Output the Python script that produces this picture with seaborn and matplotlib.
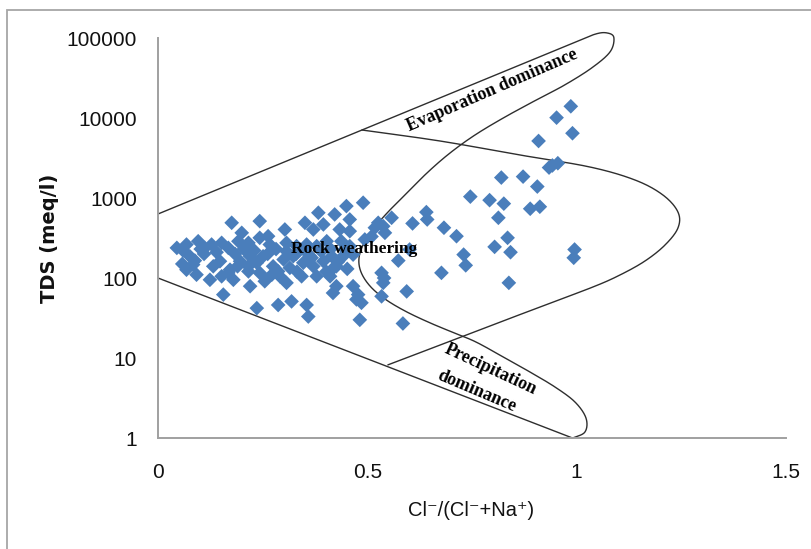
import numpy as np
import pandas as pd
import matplotlib
matplotlib.use("Agg")
import matplotlib.pyplot as plt
from matplotlib.patches import Rectangle
import seaborn as sns

# Sample values: Cl-/(Cl- + Na+) ratio and total dissolved solids
cl_ratio = [
    0.176, 0.243, 0.351, 0.383, 0.422, 0.450, 0.490, 0.458, 0.395, 0.371,
    0.200, 0.303, 0.263, 0.434, 0.458, 0.045, 0.068, 0.096, 0.128, 0.152,
    0.168, 0.192, 0.216, 0.243, 0.267, 0.307, 0.331, 0.355, 0.379, 0.403,
    0.438, 0.458, 0.076, 0.084, 0.068, 0.092, 0.132, 0.148, 0.172, 0.124,
    0.152, 0.180, 0.196, 0.220, 0.236, 0.251, 0.216, 0.243, 0.220, 0.255,
    0.275, 0.291, 0.315, 0.323, 0.347, 0.371, 0.379, 0.343, 0.307, 0.395,
    0.426, 0.411, 0.442, 0.466, 0.426, 0.418, 0.466, 0.478, 0.486, 0.482,
    0.156, 0.236, 0.287, 0.319, 0.355, 0.359, 0.558, 0.526, 0.538, 0.518,
    0.542, 0.608, 0.641, 0.643, 0.494, 0.574, 0.601, 0.534, 0.538, 0.534,
    0.594, 0.585, 0.474, 0.986, 0.952, 0.990, 0.909, 0.955, 0.934, 0.942,
    0.872, 0.820, 0.906, 0.746, 0.792, 0.826, 0.813, 0.889, 0.912, 0.683,
    0.713, 0.730, 0.735, 0.835, 0.804, 0.842, 0.995, 0.993, 0.677, 0.838,
    0.307, 0.367, 0.415, 0.287, 0.415, 0.168, 0.216, 0.112,
    0.060, 0.102, 0.110, 0.140, 0.184, 0.205, 0.230, 0.262, 0.282, 0.300,
    0.330, 0.352, 0.362, 0.390, 0.412, 0.430, 0.446, 0.452, 0.402, 0.332,
    0.272, 0.190, 0.088, 0.058, 0.540, 0.510,
]
tds = [
    490, 514, 490, 654, 623, 792, 873, 539, 467, 404,
    367, 404, 333, 404, 385, 238, 262, 288, 262, 275,
    238, 288, 275, 318, 262, 275, 250, 262, 250, 288,
    288, 250, 187, 147, 127, 110, 140, 162, 127, 95,
    105, 95, 162, 187, 155, 187, 121, 116, 79, 91,
    140, 105, 134, 187, 155, 140, 105, 105, 87, 162,
    140, 105, 187, 196, 79, 65, 79, 62, 49, 30,
    62, 42, 46, 51, 46, 33, 566, 490, 444, 425,
    367, 481, 666, 539, 303, 165, 227, 116, 87, 59,
    68, 27, 54, 14000, 10100, 6450, 5160, 2720, 2400, 2550,
    1850, 1800, 1390, 1040, 940, 850, 566, 734, 778, 425,
    333, 196, 144, 318, 245, 210, 227, 179, 116, 87,
    216, 179, 187, 121, 127, 116, 140, 238,
    220, 230, 200, 210, 200, 230, 220, 200, 230, 170,
    200, 220, 190, 215, 230, 160, 230, 130, 120, 120,
    110, 140, 165, 150, 100, 330,
]

x_ticks = [0, 0.5, 1, 1.5]
x_tick_labels = ["0", "0.5", "1", "1.5"]
y_ticks = [1, 10, 100, 1000, 10000, 100000]
y_tick_labels = ["1", "10", "100", "1000", "10000", "100000"]

# Gibbs diagram field boundaries (ratio, TDS knots)
evap_x = [0.0, 0.25, 0.487, 0.75, 0.98, 1.045, 1.075, 1.089, 1.0795, 1.0358,
          0.9713, 0.9124, 0.8288, 0.7571, 0.6974, 0.6449, 0.5971, 0.5517,
          0.5159, 0.4920, 0.4801, 0.4848, 0.5063, 0.5422, 0.5899, 0.6449,
          0.7022, 0.7595, 0.8288, 0.8885, 0.9482, 0.9959, 1.0222, 1.0198,
          0.9888]
evap_y = [631, 2183, 7080, 26100, 81800, 112000, 115000, 100000, 66800, 42200,
          25850, 17780, 10290, 6130, 3650, 2113, 1189, 688,
          422, 274, 178, 119, 79.4, 54.6, 38.7, 28.2,
          21.1, 15.85, 10.0, 6.68, 4.34, 2.82, 1.78, 1.19,
          0.99]
rock_x = [0.487, 0.6735, 0.8646, 1.0318, 1.1393, 1.2061, 1.2419, 1.2419,
          1.2109, 1.1631, 1.1034, 1.0389, 0.912, 0.793, 0.6735, 0.549]
rock_y = [7080, 5160, 3447, 2440, 1679, 1090, 668, 422,
          258, 163, 109, 77.2, 43.4, 25.1, 14.5, 8.2]
lower_x = [0.0, 0.99]
lower_y = [100, 1.0]


def smooth_curve(xs, ys, n=24):
    """Catmull-Rom curve through knots in (x, log10 y) space."""
    p = np.column_stack([xs, np.log10(ys)])
    p = np.vstack([2 * p[0] - p[1], p, 2 * p[-1] - p[-2]])
    t = np.linspace(0, 1, n, endpoint=False)[:, None]
    parts = []
    for i in range(1, len(p) - 2):
        p0, p1, p2, p3 = p[i - 1], p[i], p[i + 1], p[i + 2]
        parts.append(0.5 * (2 * p1 + (-p0 + p2) * t
                            + (2 * p0 - 5 * p1 + 4 * p2 - p3) * t ** 2
                            + (-p0 + 3 * p1 - 3 * p2 + p3) * t ** 3))
    parts.append(p[-2][None, :])
    c = np.vstack(parts)
    return c[:, 0], 10 ** c[:, 1]


sns.set_theme(style="white")
plt.rcParams["font.family"] = ["Liberation Sans", "DejaVu Sans"]

W, H = 812, 549
fig = plt.figure(figsize=(W / 100, H / 100), dpi=100)
fig.patch.set_facecolor("white")
ax = fig.add_axes([158 / W, 1 - 438 / H, 628 / W, 400 / H])

# outer frame of the chart area
fig.patches.append(Rectangle((7 / W, -0.2), 1.3, 1.2 - 10.5 / H,
                             transform=fig.transFigure, fill=False,
                             edgecolor="#a6a6a6", linewidth=1.3))

df = pd.DataFrame({"ratio": cl_ratio, "tds": tds})
sns.scatterplot(data=df, x="ratio", y="tds", marker="D", s=56,
                color="#4a7ebb", edgecolor="none", linewidth=0,
                ax=ax, legend=False, zorder=3)

line_kw = dict(color="#2e2e2e", lw=1.0, zorder=2, clip_on=False)
ex, ey = smooth_curve(evap_x, evap_y)
ax.plot(ex, ey, **line_kw)
rx, ry = smooth_curve(rock_x, rock_y)
ax.plot(rx, ry, **line_kw)
ax.plot(lower_x, lower_y, **line_kw)

ax.set_yscale("log")
ax.set_xlim(0, 1.5)
ax.set_ylim(1, 100000)
ax.set_xticks(x_ticks)
ax.set_xticklabels(x_tick_labels)
ax.set_yticks(y_ticks)
ax.set_yticklabels(y_tick_labels)
ax.minorticks_off()
ax.tick_params(axis="x", length=0, pad=18, labelsize=15, labelcolor="#111111")
ax.tick_params(axis="y", length=0, pad=15, labelsize=15, labelcolor="#111111")

for side in ("top", "right"):
    ax.spines[side].set_visible(False)
for side in ("left", "bottom"):
    ax.spines[side].set_color("#a0a0a0")
    ax.spines[side].set_linewidth(1.4)

ax.set_xlabel("Cl\u207b/(Cl\u207b+Na\u207a)", fontsize=14.5, color="#111111",
              va="center")
ax.xaxis.set_label_coords(0.498, -0.1825)
ax.set_ylabel("TDS (meq/l)", fontsize=14, fontweight="bold", color="#111111",
              family=["DejaVu Sans"], va="center")
ax.yaxis.set_label_coords(-0.172, 0.5)

serif = dict(family=["Liberation Serif", "DejaVu Serif"], fontweight="bold",
             color="black", ha="center", va="center", rotation_mode="anchor",
             zorder=4)
ax.text(0.798, 22400, "Evaporation dominance", fontsize=13, rotation=23.5, **serif)
ax.text(0.468, 230, "Rock weathering", fontsize=12.5, **serif)
ax.text(0.793, 7.1, "Precipitation", fontsize=13, rotation=-25, **serif)
ax.text(0.760, 3.8, "dominance", fontsize=13, rotation=-23, **serif)

fig.savefig("out.png", dpi=100)
